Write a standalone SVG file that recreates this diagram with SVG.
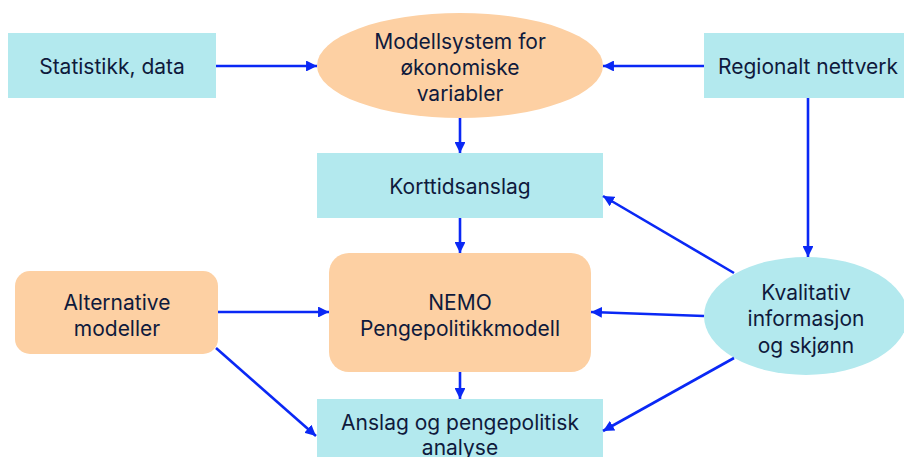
<svg xmlns="http://www.w3.org/2000/svg" width="904" height="457" viewBox="0 0 904 457">
<defs>
<marker id="ah" viewBox="0 0 10 10" refX="10" refY="5" markerWidth="4.2" markerHeight="4.2" markerUnits="strokeWidth" orient="auto">
<path d="M0,0 L10,5 L0,10 z" fill="#0a28f5"/>
</marker>
<style>
.cy{fill:#b3e9ee}
.or{fill:#fdd0a3}
text{font-family:Inter,"Liberation Sans",sans-serif;font-size:21px;fill:#0f1a3c;text-anchor:middle}
.c line{stroke:#0a28f5;stroke-width:2.6;marker-end:url(#ah)}
</style>
</defs>
<rect width="904" height="457" fill="#ffffff"/>
<g id="statistikk"><rect class="cy" x="8" y="33" width="208" height="65"/><text x="112" y="74">Statistikk, data</text></g>
<g id="modellsystem"><ellipse class="or" cx="460" cy="65.5" rx="143" ry="52.5"/><text x="460" y="49">Modellsystem for</text><text x="460" y="75">økonomiske</text><text x="460" y="101">variabler</text></g>
<g id="regionalt"><rect class="cy" x="704" y="33" width="200" height="65"/><text x="808" y="74">Regionalt nettverk</text></g>
<g id="korttidsanslag"><rect class="cy" x="317" y="153" width="286" height="65"/><text x="460" y="194">Korttidsanslag</text></g>
<g id="nemo"><rect class="or" x="329" y="253" width="262" height="119" rx="20"/><text x="460" y="310">NEMO</text><text x="460" y="336">Pengepolitikkmodell</text></g>
<g id="alternative"><rect class="or" x="15" y="271" width="203" height="83" rx="15"/><text x="117" y="310">Alternative</text><text x="117" y="336">modeller</text></g>
<g id="anslag"><rect class="cy" x="317" y="399" width="286" height="70"/><text x="460" y="430">Anslag og pengepolitisk</text><text x="460" y="455">analyse</text></g>
<g id="kvalitativ"><ellipse class="cy" cx="806" cy="316" rx="102" ry="59"/><text x="806" y="300">Kvalitativ</text><text x="806" y="326">informasjon</text><text x="806" y="353">og skjønn</text></g>
<g id="connectors" class="c">
<line x1="216" y1="66" x2="317" y2="66"/>
<line x1="704" y1="66" x2="603" y2="66"/>
<line x1="808" y1="98" x2="808" y2="257"/>
<line x1="460" y1="118" x2="460" y2="153"/>
<line x1="460" y1="218" x2="460" y2="253"/>
<line x1="460" y1="372" x2="460" y2="399"/>
<line x1="218" y1="312" x2="329" y2="312"/>
<line x1="216" y1="348" x2="316" y2="436"/>
<line x1="734" y1="273" x2="603" y2="196"/>
<line x1="704" y1="316" x2="591" y2="312"/>
<line x1="734" y1="358" x2="603" y2="431"/>
</g>
</svg>
